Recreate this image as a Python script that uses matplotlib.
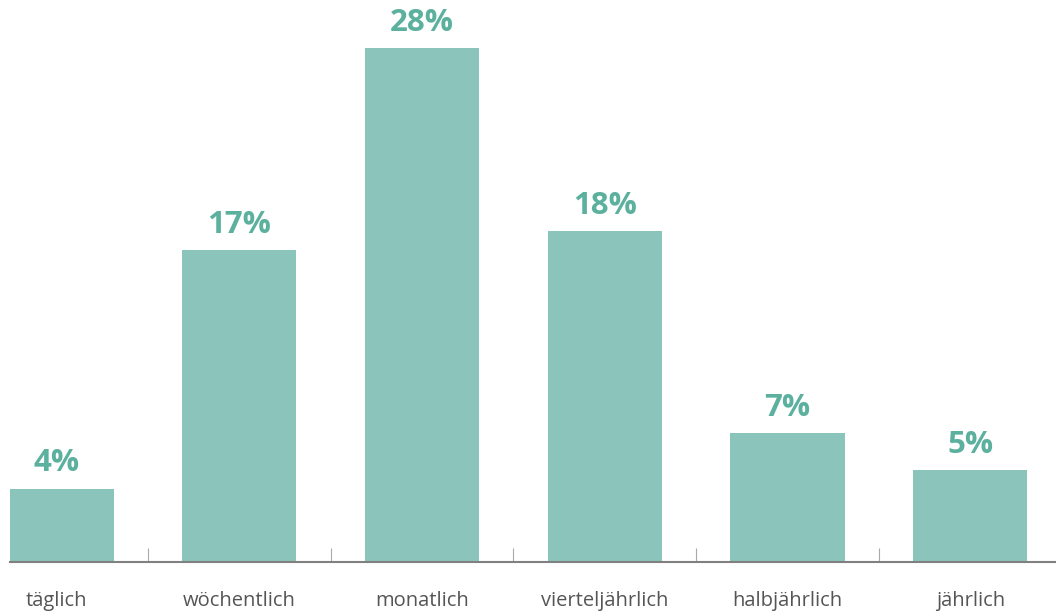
import numpy as np
import matplotlib.pyplot as plt

categories = ["täglich", "wöchentlich", "monatlich", "vierteljährlich", "halbjährlich", "jährlich"]
values = [4, 17, 28, 18, 7, 5]
labels = ["4%", "17%", "28%", "18%", "7%", "5%"]

plt.rcParams['font.family'] = ['Open Sans', 'DejaVu Sans']

fig = plt.figure(figsize=(10.56, 6.13), dpi=100)
ax = fig.add_axes([10 / 1056, 51 / 613, 1 - 10 / 1056, 562 / 613])

x = np.arange(len(categories))
bars = ax.bar(x, values, width=0.625, color="#8ac4ba")

for b, lab in zip(bars, labels):
    ax.text(b.get_x() + b.get_width() / 2, b.get_height() + 0.55, lab,
            ha="center", va="bottom", fontsize=22.5, fontweight="bold", color="#5cb09e")

ax.set_xlim(-0.255, 5.47)
ax.set_ylim(0, 30.6)

ax.set_xticks(x)
ax.set_xticklabels(categories, fontsize=14.5, color="#555555")
ax.tick_params(axis="x", which="major", length=0, pad=21)
ax.set_xticks(np.arange(0.5, 5.5, 1), minor=True)
ax.tick_params(axis="x", which="minor", direction="in", length=10, width=0.8, color="#aaaaaa")
ax.set_yticks([])

for s in ["top", "right", "left"]:
    ax.spines[s].set_visible(False)
ax.spines["bottom"].set_color("#808080")
ax.spines["bottom"].set_linewidth(1.5)

fig.savefig("out.png", dpi=100)
